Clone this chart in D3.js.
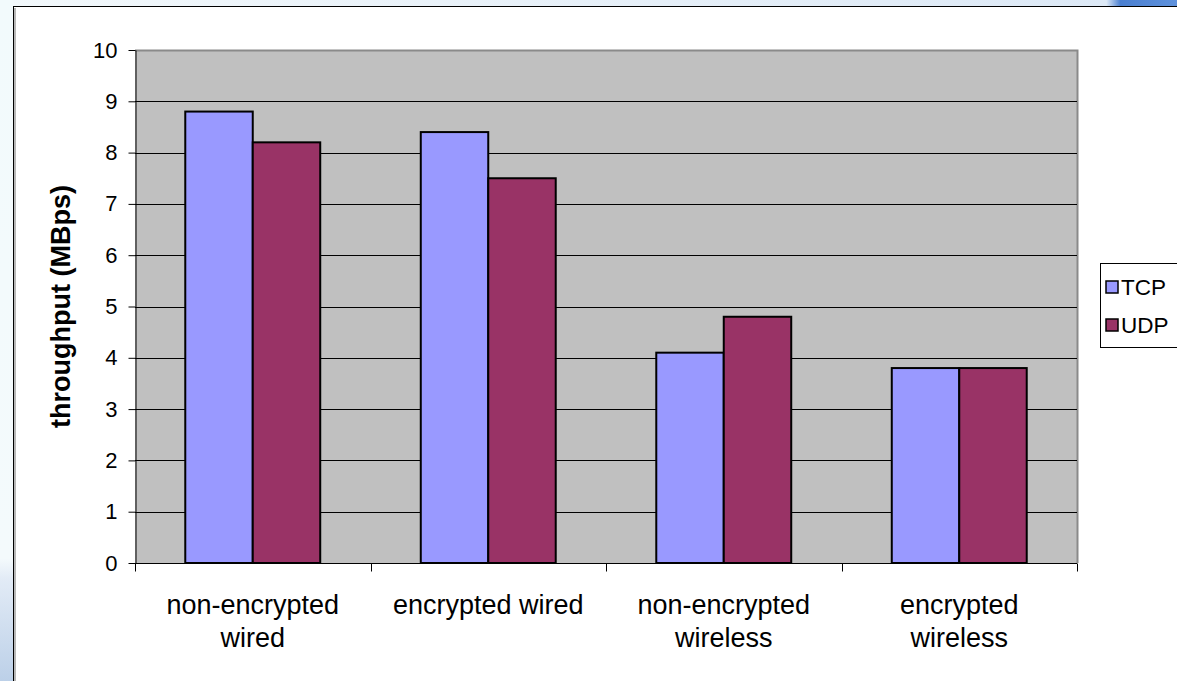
<!DOCTYPE html>
<html>
<head>
<meta charset="utf-8">
<script src="https://cdn.jsdelivr.net/npm/d3@7"></script>
<style>
  html, body { margin: 0; padding: 0; background: #fff; overflow: hidden; }
  svg { display: block; font-family: "Liberation Sans", Arial, sans-serif; }
</style>
</head>
<body>
<svg id="chart"></svg>
<script>
const categories = [["non-encrypted", "wired"], ["encrypted wired"], ["non-encrypted", "wireless"], ["encrypted", "wireless"]];
const seriesNames = ["TCP", "UDP"];
const tcpValues = [8.8, 8.4, 4.1, 3.8];
const udpValues = [8.2, 7.5, 4.8, 3.8];
const yTicks = [0, 1, 2, 3, 4, 5, 6, 7, 8, 9, 10];
const colors = ["#9999FF", "#993366"];

const width = 1177, height = 681;
const margin = {top: 50, right: 100, bottom: 118, left: 135};

const svg = d3.select("#chart")
  .attr("width", width)
  .attr("height", height);

// background decoration (slide edges)
const defs = svg.append("defs");
const gTop = defs.append("linearGradient").attr("id", "topgrad");
gTop.append("stop").attr("offset", "0%").attr("stop-color", "#f2f8fb");
gTop.append("stop").attr("offset", "94%").attr("stop-color", "#dde9f6");
gTop.append("stop").attr("offset", "95.2%").attr("stop-color", "#4a7fd0");
gTop.append("stop").attr("offset", "100%").attr("stop-color", "#5f92dc");
const gLeft = defs.append("linearGradient").attr("id", "leftgrad")
  .attr("x1", 0).attr("y1", 0).attr("x2", 0).attr("y2", 1);
gLeft.append("stop").attr("offset", "0%").attr("stop-color", "#f2fafc");
gLeft.append("stop").attr("offset", "82%").attr("stop-color", "#f4fafc");
gLeft.append("stop").attr("offset", "85%").attr("stop-color", "#e2ebf6");
gLeft.append("stop").attr("offset", "100%").attr("stop-color", "#bcd0e8");

svg.append("rect").attr("x", 0).attr("y", 0).attr("width", width).attr("height", 6).attr("fill", "url(#topgrad)");
svg.append("rect").attr("x", 0).attr("y", 0).attr("width", 13).attr("height", height).attr("fill", "url(#leftgrad)");

// chart frame
svg.append("rect")
  .attr("x", 13.5).attr("y", 6.5)
  .attr("width", width).attr("height", height)
  .attr("fill", "#fff").attr("stroke", "#000").attr("stroke-width", 1);
svg.append("line")
  .attr("x1", 15).attr("x2", 15).attr("y1", 8).attr("y2", height)
  .attr("stroke", "#a0a0a0").attr("stroke-width", 1.5);

const x0 = d3.scaleBand()
  .domain(d3.range(categories.length))
  .range([margin.left, width - margin.right])
  .paddingInner(0).paddingOuter(0);

const x1 = d3.scaleBand()
  .domain(seriesNames)
  .range([0, x0.bandwidth()])
  .paddingOuter(0.745).paddingInner(0);

const y = d3.scaleLinear()
  .domain([0, 10])
  .range([height - margin.bottom, margin.top]);

const plotW = width - margin.right - margin.left;

// plot area
svg.append("rect")
  .attr("x", margin.left).attr("y", margin.top)
  .attr("width", plotW).attr("height", y(0) - margin.top)
  .attr("fill", "#c0c0c0");
svg.append("path")
  .attr("d", `M${margin.left},${margin.top + 0.5}H${width - margin.right + 0.5}V${y(0)}`)
  .attr("fill", "none").attr("stroke", "#8a8a8a").attr("stroke-width", 2);

// gridlines
svg.append("g")
  .selectAll("line")
  .data(yTicks.filter(d => d > 0 && d < 10))
  .join("line")
  .attr("x1", margin.left).attr("x2", width - margin.right)
  .attr("y1", d => Math.round(y(d)) + 0.5).attr("y2", d => Math.round(y(d)) + 0.5)
  .attr("stroke", "#000").attr("stroke-width", 1);

// y axis
const yAxis = svg.append("g")
  .attr("transform", `translate(${margin.left + 0.5},0)`)
  .call(d3.axisLeft(y).tickValues(yTicks).tickSize(7).tickPadding(11).tickSizeOuter(0));
yAxis.select(".domain").attr("stroke", "#000");
yAxis.selectAll(".tick line").attr("stroke", "#000");
yAxis.selectAll(".tick text")
  .attr("font-size", 22).attr("fill", "#000")
  .attr("font-family", "Liberation Sans, Arial, sans-serif");

// bars
const groups = svg.append("g")
  .selectAll("g")
  .data(categories.map((c, i) => i))
  .join("g")
  .attr("transform", i => `translate(${x0(i)},0)`);

groups.selectAll("rect")
  .data(i => [{k: "TCP", v: tcpValues[i]}, {k: "UDP", v: udpValues[i]}])
  .join("rect")
  .attr("x", d => x1(d.k))
  .attr("y", d => y(d.v))
  .attr("width", x1.bandwidth())
  .attr("height", d => y(0) - y(d.v))
  .attr("fill", (d, j) => colors[j])
  .attr("stroke", "#000").attr("stroke-width", 2);

// x axis
const xAxisG = svg.append("g").attr("transform", `translate(0,${y(0) + 0.5})`);
xAxisG.append("line")
  .attr("x1", margin.left).attr("x2", width - margin.right)
  .attr("stroke", "#000");
xAxisG.selectAll(".xt")
  .data(d3.range(categories.length + 1))
  .join("line")
  .attr("class", "xt")
  .attr("x1", i => Math.round(margin.left + i * x0.bandwidth()) + 0.5)
  .attr("x2", i => Math.round(margin.left + i * x0.bandwidth()) + 0.5)
  .attr("y1", 0).attr("y2", 8)
  .attr("stroke", "#000");

const labels = svg.append("g")
  .selectAll("text")
  .data(categories)
  .join("text")
  .attr("x", (d, i) => x0(i) + x0.bandwidth() / 2)
  .attr("y", 614)
  .attr("text-anchor", "middle")
  .attr("font-size", 27)
  .attr("fill", "#000");
labels.selectAll("tspan")
  .data(d => d)
  .join("tspan")
  .attr("x", function() { return this.parentNode.getAttribute("x"); })
  .attr("dy", (d, j) => j === 0 ? 0 : 33)
  .text(d => d);

// y title
svg.append("text")
  .attr("transform", `translate(70,${(margin.top + y(0)) / 2}) rotate(-90)`)
  .attr("text-anchor", "middle")
  .attr("font-size", 27)
  .attr("font-weight", "bold")
  .attr("fill", "#000")
  .text("throughput (MBps)");

// legend
const legend = svg.append("g").attr("transform", "translate(1100,263)");
legend.append("rect")
  .attr("x", 0.5).attr("y", 0.5).attr("width", 100).attr("height", 84)
  .attr("fill", "#fff").attr("stroke", "#000");
const items = legend.selectAll(".item")
  .data(seriesNames)
  .join("g")
  .attr("class", "item")
  .attr("transform", (d, i) => `translate(0,${24 + i * 38})`);
items.append("rect")
  .attr("x", 6).attr("y", -6).attr("width", 12).attr("height", 12)
  .attr("fill", (d, i) => colors[i])
  .attr("stroke", "#000").attr("stroke-width", 1.5);
items.append("text")
  .attr("x", 21).attr("y", 8)
  .attr("font-size", 22.5)
  .attr("fill", "#000")
  .text(d => d);
</script>
</body>
</html>
